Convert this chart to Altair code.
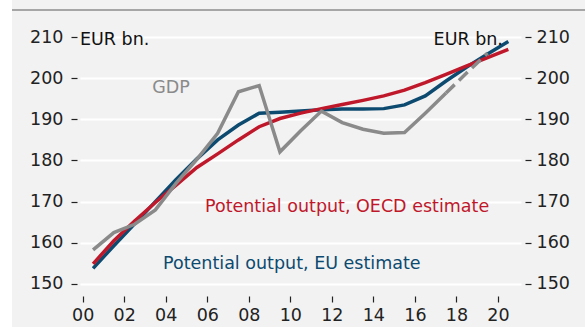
import altair as alt
import pandas as pd

# Annual observations, plotted at mid-year
years = [2000.5 + i for i in range(21)]

eu_estimate = [153.8, 159.3, 164.6, 170.0, 175.4, 180.4, 185.0, 188.6, 191.5, 191.7,
               192.0, 192.3, 192.5, 192.5, 192.6, 193.5, 195.7, 199.3, 202.7, 205.9, 208.9]
oecd_estimate = [154.9, 160.5, 165.3, 169.8, 174.0, 178.3, 181.6, 185.0, 188.2, 190.2,
                 191.5, 192.6, 193.6, 194.6, 195.7, 197.1, 198.9, 200.9, 203.0, 205.0, 207.0]
gdp = [158.3, 162.5, 164.5, 168.0, 174.5, 180.3, 186.6, 196.7, 198.2, 182.1,
       187.2, 192.0, 189.2, 187.6, 186.6, 186.8, 191.5, 196.4, 201.3, 206.1]
gdp_forecast_from = 2017.5

y_ticks = [150, 160, 170, 180, 190, 200, 210]
x_ticks = [2000, 2002, 2004, 2006, 2008, 2010, 2012, 2014, 2016, 2018, 2020]

BLUE = "#0c4a70"
RED = "#c0182b"
GREY = "#8a8a8a"
FONT = "DejaVu Sans"
AXIS_FS = 17.5
TEXT_FS = 17.5

X_DOMAIN = [1999.87, 2021.11]
Y_DOMAIN = [148.54, 214.13]

df_eu = pd.DataFrame({"year": years, "value": eu_estimate})
df_oecd = pd.DataFrame({"year": years, "value": oecd_estimate})
df_gdp = pd.DataFrame({"year": years[:len(gdp)], "value": gdp})
df_gdp_actual = df_gdp[df_gdp["year"] <= gdp_forecast_from]
df_gdp_fcst = df_gdp[df_gdp["year"] >= gdp_forecast_from]

x_scale = alt.Scale(domain=X_DOMAIN, nice=False, zero=False)
x_enc = alt.X("year:Q", scale=x_scale,
              axis=alt.Axis(values=x_ticks, labelExpr="substring(toString(datum.value), 2)",
                            title=None, grid=False, domain=False, tickSize=6, offset=6,
                            tickColor="#222", tickWidth=1.2, labelPadding=4,
                            labelFontSize=AXIS_FS, labelColor="#222", labelFont=FONT))
y_scale = alt.Scale(domain=Y_DOMAIN, nice=False, zero=False)
y_left = alt.Y("value:Q", scale=y_scale,
               axis=alt.Axis(values=y_ticks, orient="left", title=None, domain=False,
                             grid=True, gridColor="white", gridWidth=2,
                             tickSize=6, offset=3, tickColor="#222", tickWidth=1.2,
                             labelPadding=8, labelFontSize=AXIS_FS, labelColor="#222",
                             labelFont=FONT))
y_right = alt.Y("value:Q", scale=y_scale,
                axis=alt.Axis(values=y_ticks, orient="right", title=None, domain=False,
                              grid=False, tickSize=6, offset=4, tickColor="#222",
                              tickWidth=1.2, labelPadding=5, labelFontSize=AXIS_FS,
                              labelColor="#222", labelFont=FONT))

eu_line = alt.Chart(df_eu).mark_line(color=BLUE, strokeWidth=3.5).encode(x=x_enc, y=y_left)
oecd_line = alt.Chart(df_oecd).mark_line(color=RED, strokeWidth=3.5).encode(x=x_enc, y=y_left)
gdp_line = alt.Chart(df_gdp_actual).mark_line(color=GREY, strokeWidth=3.5).encode(x=x_enc, y=y_left)
gdp_fcst_line = alt.Chart(df_gdp_fcst).mark_line(
    color=GREY, strokeWidth=3.5, strokeDash=[12, 6]).encode(x=x_enc, y=y_left)

# Series labels and unit captions
gdp_label = pd.DataFrame({"year": [2004.25], "value": [197.6], "text": ["GDP"]})
series_labels = pd.DataFrame({
    "year": [2005.89, 2003.87],
    "value": [168.7, 154.9],
    "text": ["Potential output, OECD estimate", "Potential output, EU estimate"],
    "series": ["oecd", "eu"],
})
units = pd.DataFrame({"year": [1999.87, 2020.24], "value": [209.3, 209.3],
                      "text": ["EUR bn.", "EUR bn."], "side": ["left", "right"]})

gdp_text = alt.Chart(gdp_label).mark_text(
    font=FONT, fontSize=TEXT_FS, align="center", baseline="middle", color=GREY).encode(
    x=x_enc, y=y_left, text="text:N")
series_text = alt.Chart(series_labels).mark_text(
    font=FONT, fontSize=TEXT_FS, align="left", baseline="middle").encode(
    x=x_enc, y=y_left, text="text:N",
    color=alt.Color("series:N", scale=alt.Scale(domain=["oecd", "eu"], range=[RED, BLUE]),
                    legend=None))
unit_left = alt.Chart(units[units["side"] == "left"]).mark_text(
    font=FONT, fontSize=TEXT_FS, align="left", baseline="middle", color="#111").encode(
    x=x_enc, y=y_left, text="text:N")
unit_right = alt.Chart(units[units["side"] == "right"]).mark_text(
    font=FONT, fontSize=TEXT_FS, align="right", baseline="middle", color="#111").encode(
    x=x_enc, y=y_left, text="text:N")

# Frame decorations: white margin strip on the left and the rule across the top
left_strip = alt.Chart(pd.DataFrame({"a": [0]})).mark_rect(color="white").encode(
    x=alt.value(-80), x2=alt.value(-68), y=alt.value(-20), y2=alt.value(307))
top_rule = alt.Chart(pd.DataFrame({"a": [0]})).mark_rule(color="#8c8c8c", strokeWidth=1.5).encode(
    x=alt.value(-68), x2=alt.value(505), y=alt.value(-10))

right_axis = alt.Chart(df_eu).mark_line(opacity=0).encode(x=x_enc, y=y_right)

left_layer = alt.layer(eu_line, oecd_line, gdp_line, gdp_fcst_line, gdp_text, series_text,
                       unit_left, unit_right, left_strip, top_rule)

chart = alt.layer(left_layer, right_axis).resolve_scale(y="independent").properties(
    width=441, height=270,
    autosize=alt.AutoSizeParams(type="none"),
    padding={"left": 80, "top": 20, "right": 64, "bottom": 37},
    background="#f2f2f2",
).configure_view(stroke=None)

chart.save("out.html", embed_options={"renderer": "svg", "actions": False})
